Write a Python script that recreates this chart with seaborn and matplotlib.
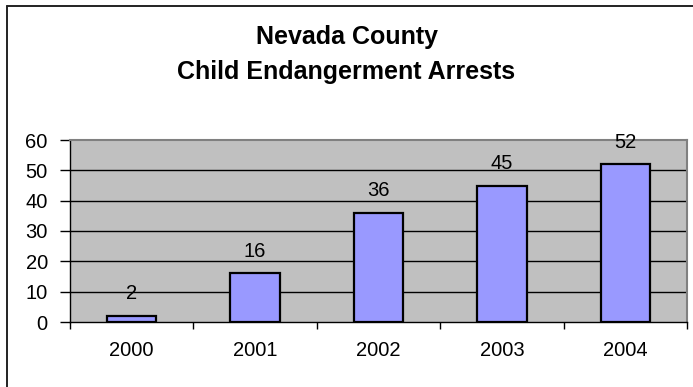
import matplotlib
matplotlib.use("Agg")
import matplotlib.pyplot as plt
import seaborn as sns
import pandas as pd
from matplotlib.lines import Line2D
from matplotlib.ticker import FixedLocator, NullFormatter

years = ["2000", "2001", "2002", "2003", "2004"]
arrests = [2, 16, 36, 45, 52]
title_lines = ["Nevada County", "Child Endangerment Arrests"]
yticks = [0, 10, 20, 30, 40, 50, 60]

sns.set_theme(style="white")
plt.rcParams["font.family"] = ["Liberation Sans", "DejaVu Sans"]

W, H = 693, 387
fig = plt.figure(figsize=(W / 100, H / 100), dpi=100)
fig.patch.set_facecolor("white")

ax = fig.add_axes([70 / W, 1 - 322 / H, (687 - 70) / W, (322 - 140) / H])
ax.set_facecolor("#C0C0C0")

df = pd.DataFrame({"year": years, "arrests": arrests})
sns.barplot(data=df, x="year", y="arrests", color="#9999FF", saturation=1,
            width=0.4, edgecolor="black", linewidth=1.6, ax=ax, zorder=3)

ax.set_ylim(0, 60)
ax.set_xlim(-0.5, len(years) - 0.5)
ax.set_yticks(yticks)
ax.set_yticklabels([str(v) for v in yticks])
for v in yticks[1:-1]:
    ax.axhline(v, color="black", linewidth=1.0, zorder=1)

ax.set_xlabel("")
ax.set_ylabel("")

# x ticks: labels at centers, tick marks at boundaries
ax.tick_params(axis="x", which="major", length=0, pad=14, labelsize=14.5, colors="black")
ax.xaxis.set_minor_locator(FixedLocator([i - 0.5 for i in range(len(years) + 1)]))
ax.xaxis.set_minor_formatter(NullFormatter())
ax.tick_params(axis="x", which="minor", bottom=True, length=5, width=1, color="black", direction="out")
ax.tick_params(axis="y", which="major", left=True, length=7, width=1, pad=9, labelsize=14.5,
               colors="black", direction="out")

for side in ["left", "bottom"]:
    ax.spines[side].set_visible(True)
    ax.spines[side].set_color("black")
    ax.spines[side].set_linewidth(1.0)
for side in ["top", "right"]:
    ax.spines[side].set_visible(True)
    ax.spines[side].set_color("#808080")
    ax.spines[side].set_linewidth(1.5)

for i, v in enumerate(arrests):
    ax.annotate(str(v), xy=(i, v), xytext=(0, 12), textcoords="offset points",
                ha="center", va="baseline", fontsize=14.5, color="black", zorder=5)

fig.text(0.5, 1 - 37 / H, title_lines[0], ha="center", va="center",
         fontsize=18, fontweight="bold", color="black")
fig.text(0.5, 1 - 72 / H, title_lines[1], ha="center", va="center",
         fontsize=18, fontweight="bold", color="black")

# outer chart border (left and top visible)
fig.add_artist(Line2D([7 / W, 7 / W], [0, 1 - 5.5 / H], color="#222222", linewidth=1.4,
                      transform=fig.transFigure))
fig.add_artist(Line2D([7 / W, 1], [1 - 5.5 / H, 1 - 5.5 / H], color="#222222", linewidth=1.4,
                      transform=fig.transFigure))

fig.savefig("out.png", dpi=100, facecolor="white")
